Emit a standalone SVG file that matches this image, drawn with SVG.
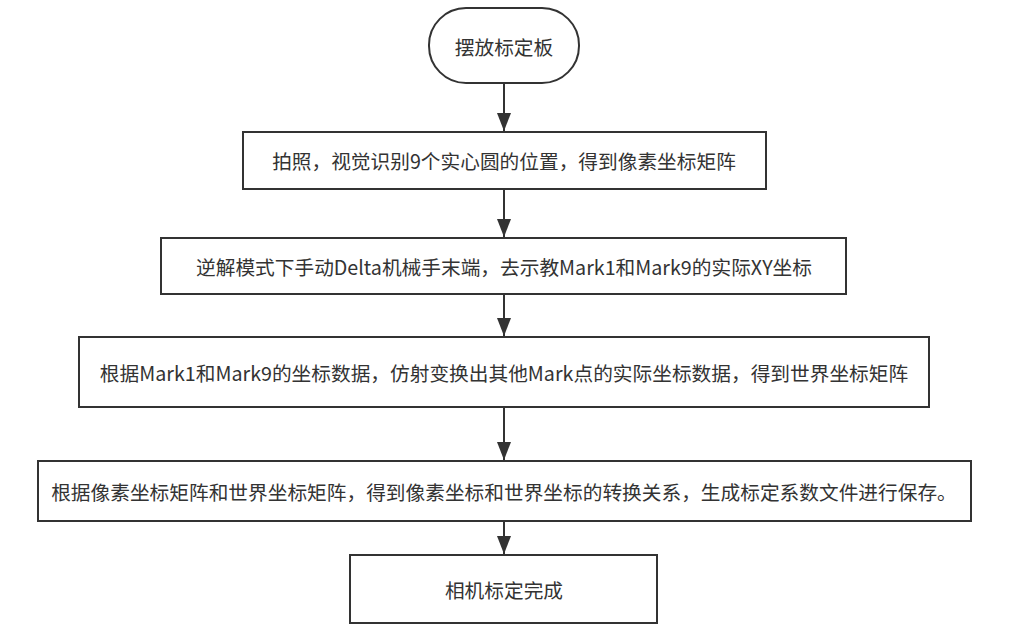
<svg xmlns="http://www.w3.org/2000/svg" width="1009" height="630" viewBox="0 0 1009 630">
<style>
.n{fill:#fff;stroke:#333;stroke-width:2}
.t{font-family:"Noto Sans CJK SC","Noto Sans",sans-serif;font-size:19.7px;fill:#333;text-anchor:middle;dominant-baseline:central}
.c{stroke:#333;stroke-width:2;fill:none;marker-end:url(#ah)}
</style>
<defs>
<marker id="ah" markerUnits="userSpaceOnUse" markerWidth="18" markerHeight="14" viewBox="0 0 18 14" refX="18" refY="7" orient="auto">
<path d="M0,0 L18,7 L0,14 Z" fill="#333"/>
</marker>
</defs>
<rect width="1009" height="630" fill="#fff"/>
<g id="connectors">
<line class="c" x1="504" y1="83" x2="504" y2="131"/>
<line class="c" x1="504" y1="189" x2="504" y2="237"/>
<line class="c" x1="504" y1="294" x2="504" y2="336"/>
<line class="c" x1="504" y1="407" x2="504" y2="460"/>
<line class="c" x1="504" y1="521" x2="504" y2="554"/>
</g>
<g id="n1"><rect class="n" x="429" y="8" width="150" height="75" rx="37" ry="37"/><text class="t" x="504" y="46">摆放标定板</text></g>
<g id="n2"><rect class="n" x="243" y="132" width="523" height="57"/><text class="t" x="504" y="160">拍照，视觉识别9个实心圆的位置，得到像素坐标矩阵</text></g>
<g id="n3"><rect class="n" x="161" y="238" width="685" height="56"/><text class="t" x="504" y="266">逆解模式下手动Delta机械手末端，去示教Mark1和Mark9的实际XY坐标</text></g>
<g id="n4"><rect class="n" x="79" y="337" width="850" height="70"/><text class="t" x="504" y="372">根据Mark1和Mark9的坐标数据，仿射变换出其他Mark点的实际坐标数据，得到世界坐标矩阵</text></g>
<g id="n5"><rect class="n" x="38" y="461" width="933" height="60"/><text class="t" x="504" y="491">根据像素坐标矩阵和世界坐标矩阵，得到像素坐标和世界坐标的转换关系，生成标定系数文件进行保存。</text></g>
<g id="n6"><rect class="n" x="350" y="555" width="307" height="68"/><text class="t" x="504" y="589">相机标定完成</text></g>
</svg>
